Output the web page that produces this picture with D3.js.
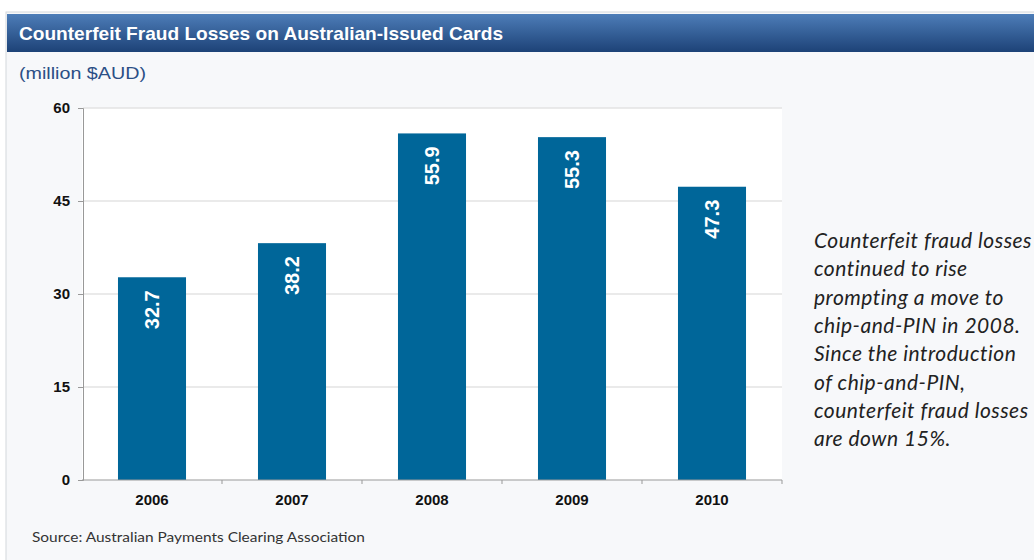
<!DOCTYPE html>
<meta charset="utf-8" />
<style>
  body { margin: 0; background: #fff; }
  svg { font-family: "Liberation Sans", Arial, sans-serif; }
  .calib { font-family: Lato, "Open Sans", sans-serif; }
</style>
<svg width="1034" height="560"></svg>
<script src="https://d3js.org/d3.v7.min.js"></script>
<script>
  var years = ["2006", "2007", "2008", "2009", "2010"];
  var losses = [32.7, 38.2, 55.9, 55.3, 47.3];
  var yTicks = [0, 15, 30, 45, 60];
  var noteLines = [
    "Counterfeit fraud losses",
    "continued to rise",
    "prompting a move to",
    "chip-and-PIN in 2008.",
    "Since the introduction",
    "of chip-and-PIN,",
    "counterfeit fraud losses",
    "are down 15%."
  ];

  var svg = d3.select("svg");

  // panel + title bar
  var grad = svg.append("defs").append("linearGradient")
    .attr("id", "bar").attr("x1", 0).attr("y1", 0).attr("x2", 0).attr("y2", 1);
  grad.append("stop").attr("offset", "0%").attr("stop-color", "#4d7db8");
  grad.append("stop").attr("offset", "100%").attr("stop-color", "#1d4277");

  svg.append("rect").attr("x", 6).attr("y", 12).attr("width", 1040).attr("height", 560)
    .attr("fill", "#f7f8fa").attr("stroke", "#d4d7dc");
  svg.append("rect").attr("x", 7).attr("y", 14).attr("width", 1040).attr("height", 38)
    .attr("fill", "url(#bar)");
  svg.append("text").attr("x", 19).attr("y", 40)
    .attr("fill", "#fff").attr("font-size", 19).attr("font-weight", "bold")
    .attr("textLength", 484).attr("lengthAdjust", "spacingAndGlyphs")
    .text("Counterfeit Fraud Losses on Australian-Issued Cards");
  svg.append("text").attr("x", 19).attr("y", 79)
    .attr("fill", "#2b4f86").attr("font-size", 17)
    .attr("textLength", 127).attr("lengthAdjust", "spacingAndGlyphs")
    .text("(million $AUD)");

  // chart
  var x = d3.scaleBand().domain(years).range([82, 782])
    .paddingInner(0.514).paddingOuter(0.257);
  var y = d3.scaleLinear().domain([0, 60]).range([480, 108]);

  svg.append("rect").attr("x", 82).attr("y", 108).attr("width", 700).attr("height", 372)
    .attr("fill", "#fff");

  svg.append("g").selectAll("line").data(yTicks.filter(d => d > 0)).enter()
    .append("line")
    .attr("x1", 83).attr("x2", 782)
    .attr("y1", d => y(d)).attr("y2", d => y(d))
    .attr("stroke", "#e3e3e3").attr("stroke-width", 1.5);

  svg.append("g").selectAll("rect").data(losses).enter()
    .append("rect")
    .attr("x", (d, i) => x(years[i]))
    .attr("y", d => y(d))
    .attr("width", x.bandwidth())
    .attr("height", d => y(0) - y(d))
    .attr("fill", "#006699");

  svg.append("g").selectAll("text").data(losses).enter()
    .append("text")
    .attr("transform", (d, i) => "translate(" + (x(years[i]) + x.bandwidth() / 2 + 7) + "," + (y(d) + 13) + ") rotate(-90)")
    .attr("text-anchor", "end")
    .attr("fill", "#fff").attr("font-size", 20).attr("font-weight", "bold")
    .text(d => d.toFixed(1));

  var yAxis = svg.append("g").attr("transform", "translate(83,0)")
    .call(d3.axisLeft(y).tickValues(yTicks).tickSize(5).tickPadding(8));
  var xAxis = svg.append("g").attr("transform", "translate(0,480)")
    .call(d3.axisBottom(x).tickSize(0).tickPadding(14));
  xAxis.selectAll(".tick").append("line")
    .attr("x1", x.step() / 2).attr("x2", x.step() / 2).attr("y1", 0).attr("y2", 4)
    .attr("stroke", "#999");
  [yAxis, xAxis].forEach(function(a) {
    a.attr("font-family", null);
    a.select(".domain").attr("stroke", "#999");
    a.selectAll(".tick line").attr("stroke", "#999");
    a.selectAll("text").attr("font-size", 15).attr("font-weight", "bold")
      .attr("fill", "#111");
  });
  xAxis.select(".domain").attr("d", "M82,0H782");

  // note (cut off at the right edge, as in the original)
  svg.append("g").attr("class", "calib").selectAll("text").data(noteLines).enter()
    .append("text")
    .attr("x", 814).attr("y", (d, i) => 248 + i * 28.3)
    .attr("font-style", "italic").attr("font-size", 21).attr("fill", "#222")
    .attr("letter-spacing", 0.5)
    .text(d => d);

  svg.append("text").attr("class", "calib").attr("x", 32).attr("y", 542)
    .attr("font-size", 14).attr("fill", "#333")
    .attr("textLength", 333).attr("lengthAdjust", "spacingAndGlyphs")
    .text("Source: Australian Payments Clearing Association");
</script>
